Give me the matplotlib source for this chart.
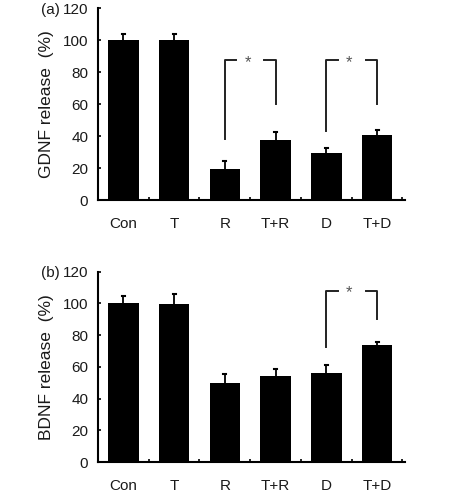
import matplotlib
matplotlib.use("Agg")
import matplotlib.pyplot as plt
import numpy as np

plt.rcParams['font.family'] = ['Liberation Sans', 'DejaVu Sans']

categories = ["Con", "T", "R", "T+R", "D", "T+D"]
gdnf = [100, 100, 19.4, 37.7, 29.4, 40.4]
gdnf_err = [3.5, 3.5, 5.0, 4.6, 3.0, 3.1]
bdnf = [100, 99.6, 49.7, 54.3, 56.2, 74.0]
bdnf_err = [4.5, 6.3, 5.6, 4.2, 4.8, 1.5]
yticks = [0, 20, 40, 60, 80, 100, 120]

# brackets: (left idx, right idx, left bottom, right bottom, top)
brackets_a = [(2, 3, 38, 60, 87.3), (4, 5, 43, 60, 87.3)]
brackets_b = [(4, 5, 72.5, 90.4, 108)]

fig = plt.figure(figsize=(4.63, 5.04), dpi=100)
ax_a = fig.add_axes([98/463, (504-200)/504, 307/463, 192/504])
ax_b = fig.add_axes([98/463, (504-462)/504, 307/463, 190.4/504])

tc = "#1a1a1a"


def draw(ax, vals, errs, brackets, ylabel, tag):
    x = np.arange(len(categories)) + 0.5
    ax.bar(x, vals, width=0.6, color="black", zorder=2)
    for xi, v, e in zip(x, vals, errs):
        ax.plot([xi, xi], [v, v + e], color="black", lw=1.3, zorder=3)
        ax.plot([xi - 0.03, xi + 0.03], [v + e, v + e], color="black", lw=1.5, zorder=3)
    ax.set_xlim(0, 6.05)
    ax.set_ylim(0, 120)
    ax.set_yticks(yticks)
    ax.set_yticklabels([str(t) for t in yticks], fontsize=11, color=tc)
    ax.set_xticks(np.arange(1, 7), minor=False)
    ax.set_xticklabels([""] * 6)
    ax.tick_params(axis="x", direction="in", length=2, width=1.2)
    ax.tick_params(axis="y", direction="in", length=2.5, width=1.2, pad=7)
    for i, c in enumerate(categories):
        ax.text(x[i], -15, c, ha="center", va="center", fontsize=11, color=tc)
    for s in ["top", "right"]:
        ax.spines[s].set_visible(False)
    for s in ["left", "bottom"]:
        ax.spines[s].set_linewidth(1.5)
    ax.set_ylabel(ylabel, fontsize=12.5, color=tc, labelpad=6)
    ax.text(-0.93, 119, tag, ha="center", va="center", fontsize=11, color=tc)
    for li, ri, lb, rb, top in brackets:
        xl, xr = x[li], x[ri]
        mid = (xl + xr) / 2
        gap = 0.28
        ax.plot([xl, xl, mid - gap], [lb, top, top], color="#222222", lw=1.4)
        ax.plot([mid + gap, xr, xr], [top, top, rb], color="#222222", lw=1.4)
        ax.text(mid - 0.05, top - 1.5, "*", ha="center", va="center", fontsize=12, color="#555555")


draw(ax_a, gdnf, gdnf_err, brackets_a, "GDNF release  (%)", "(a)")
draw(ax_b, bdnf, bdnf_err, brackets_b, "BDNF release  (%)", "(b)")

fig.savefig("out.png", dpi=100)
